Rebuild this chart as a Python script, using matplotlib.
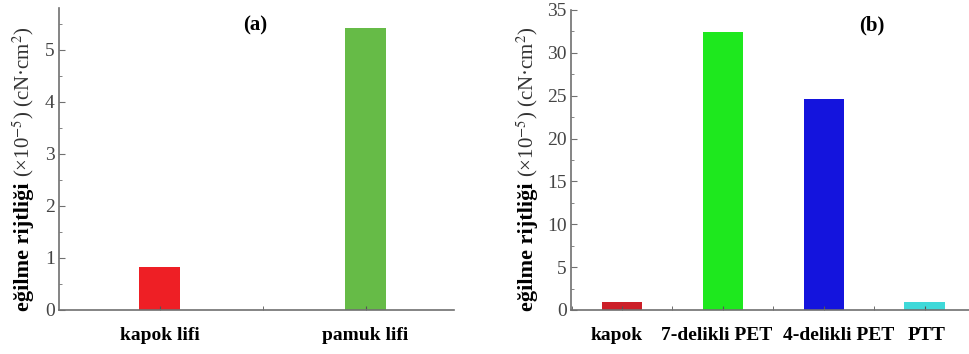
import matplotlib.pyplot as plt
from matplotlib.ticker import MultipleLocator
from matplotlib.transforms import ScaledTranslation

plt.rcParams['font.family'] = ['Liberation Serif', 'DejaVu Serif']
plt.rcParams['mathtext.fontset'] = 'stix'

# panel (a)
cats_a = ["kapok lifi", "pamuk lifi"]
vals_a = [0.83, 5.42]
cols_a = ["#ee1f25", "#66bb47"]

# panel (b)
cats_b = ["kapok", "7-delikli PET", "4-delikli PET", "PTT"]
vals_b = [0.93, 32.4, 24.6, 0.93]
cols_b = ["#cc1f28", "#1ee81e", "#1414dd", "#3fd9d9"]

W, H = 970, 354
fig = plt.figure(figsize=(W / 100, H / 100), dpi=100)

ax1 = fig.add_axes([59 / W, 1 - 310 / H, (454 - 59) / W, (310 - 8) / H])
ax2 = fig.add_axes([571 / W, 1 - 310 / H, (970 - 571) / W, (310 - 10) / H])

ax1.bar(range(len(cats_a)), vals_a, width=0.2, color=cols_a)
ax2.bar(range(len(cats_b)), vals_b, width=0.4, color=cols_b)

ax1.set_xlim(-0.49, 1.43)
ax1.set_ylim(0, 5.8)
ax1.yaxis.set_major_locator(MultipleLocator(1))
ax1.yaxis.set_minor_locator(MultipleLocator(0.5))

ax2.set_xlim(-0.505, 3.45)
ax2.set_ylim(0, 35)
ax2.yaxis.set_major_locator(MultipleLocator(5))
ax2.yaxis.set_minor_locator(MultipleLocator(2.5))

for ax, cats in [(ax1, cats_a), (ax2, cats_b)]:
    for s in ["top", "right"]:
        ax.spines[s].set_visible(False)
    for s in ["left", "bottom"]:
        ax.spines[s].set_color("#707070")
        ax.spines[s].set_linewidth(1.2)
    ax.set_xticks(range(len(cats)))
    ax.set_xticklabels(cats, fontsize=14, fontweight="bold")
    ax.xaxis.set_minor_locator(MultipleLocator(0.5))
    ax.tick_params(axis="x", which="both", direction="in", length=3,
                   color="#555555", pad=12)
    ax.tick_params(axis="y", which="major", direction="in", length=4,
                   color="#707070", labelsize=14, labelcolor="#444444", pad=3)
    ax.tick_params(axis="y", which="minor", direction="in", length=2.5,
                   color="#707070")

# labels in (b) sit a little off the bar centres in the original
shifts_b = [-5, -6, 15, 2]
for lab, dx in zip(ax2.get_xticklabels(), shifts_b):
    lab.set_transform(lab.get_transform() +
                      ScaledTranslation(dx / 100, 0, fig.dpi_scale_trans))

fig.text(255 / W, 1 - 25 / H, "(a)", fontsize=15, fontweight="bold",
         ha="center", va="center")
fig.text(872 / W, 1 - 25 / H, "(b)", fontsize=15, fontweight="bold",
         ha="center", va="center")

# y labels: bold part and unit part, rotated, sharing a baseline
fig.canvas.draw()
renderer = fig.canvas.get_renderer()
for xb in [29, 533]:
    t1 = fig.text(xb / W, 1 - 311 / H, "eğilme rijtliği", fontsize=16,
                  fontweight="bold", rotation=90, rotation_mode="anchor",
                  ha="left", va="baseline")
    bb = t1.get_window_extent(renderer)
    fig.text(xb / W, (bb.y1 + 5) / H, "(×10$^{-5}$) (cN·cm$^{2}$)",
             fontsize=15, color="#333333", rotation=90,
             rotation_mode="anchor", ha="left", va="baseline")

fig.savefig("out.png", dpi=100)
